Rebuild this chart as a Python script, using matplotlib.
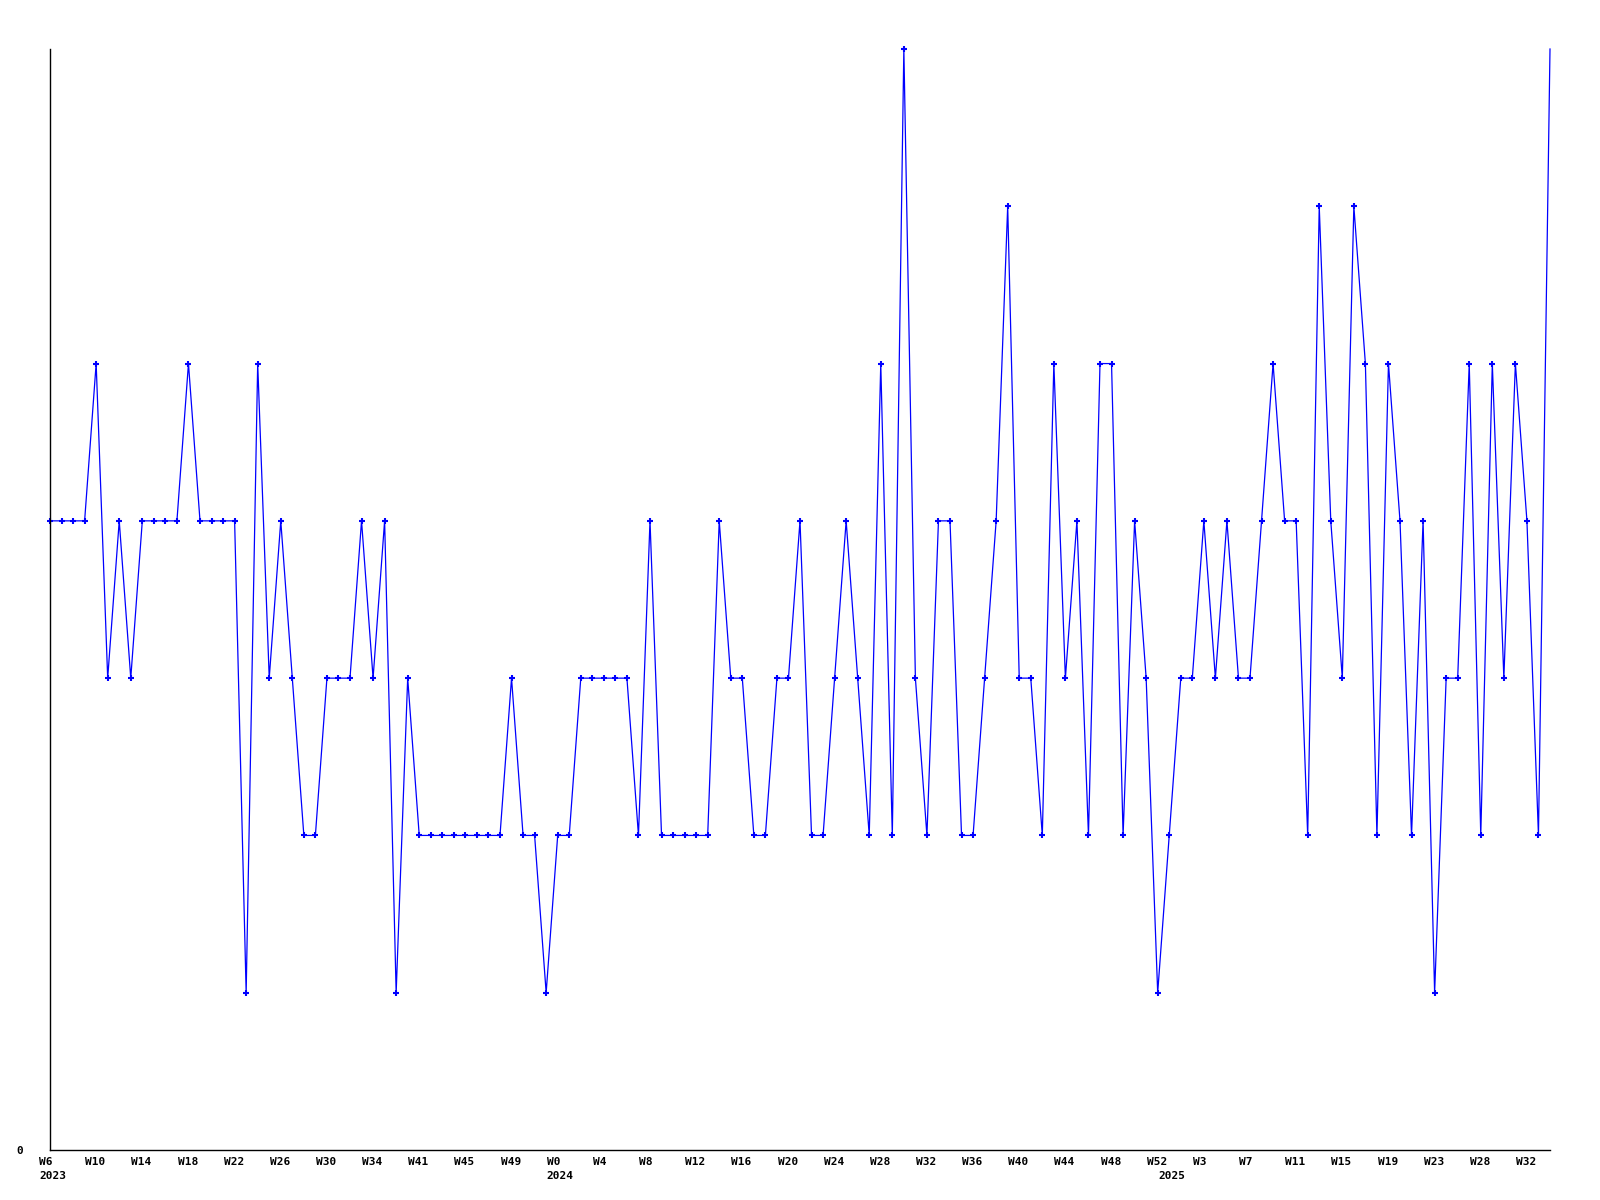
import matplotlib
matplotlib.use('Agg')
import matplotlib.pyplot as plt
import numpy as np

# weekly values
values = [4, 4, 4, 4, 5, 3, 4, 3, 4, 4, 4, 4, 5, 4, 4, 4, 4, 1, 5, 3,
          4, 3, 2, 2, 3, 3, 3, 4, 3, 4, 1, 3, 2, 2, 2, 2, 2, 2, 2, 2,
          3, 2, 2, 1, 2, 2, 3, 3, 3, 3, 3, 2, 4, 2, 2, 2, 2, 2, 4, 3,
          3, 2, 2, 3, 3, 4, 2, 2, 3, 4, 3, 2, 5, 2, 7, 3, 2, 4, 4, 2,
          2, 3, 4, 6, 3, 3, 2, 5, 3, 4, 2, 5, 5, 2, 4, 3, 1, 2, 3, 3,
          4, 3, 4, 3, 3, 4, 5, 4, 4, 2, 6, 4, 3, 6, 5, 2, 5, 4, 2, 4,
          1, 3, 3, 5, 2, 5, 3, 5, 4, 2, 7]

week_labels = ['W6', 'W10', 'W14', 'W18', 'W22', 'W26', 'W30', 'W34', 'W41',
               'W45', 'W49', 'W0', 'W4', 'W8', 'W12', 'W16', 'W20', 'W24',
               'W28', 'W32', 'W36', 'W40', 'W44', 'W48', 'W52', 'W3', 'W7',
               'W11', 'W15', 'W19', 'W23', 'W28', 'W32']
year_labels = ['2023', '2024', '2025']
year_index = [0, 44, 97]

plt.rcParams['font.family'] = ['DejaVu Sans Mono']
plt.rcParams['font.weight'] = 'bold'

fig = plt.figure(figsize=(16, 12), dpi=100)
ax = fig.add_axes([50 / 1600, 50 / 1200, 1500 / 1600, 1101 / 1200])

x = np.arange(len(values))
ax.plot(x, values, color='#0000ff', linewidth=0.9, marker='+',
        markersize=4.5, markeredgewidth=1.5,
        markevery=list(range(len(values) - 1)), clip_on=False)

ax.spines['top'].set_visible(False)
ax.spines['right'].set_visible(False)
ax.spines['left'].set_linewidth(1.0)
ax.spines['bottom'].set_linewidth(1.0)

ax.set_xticks([])
ax.set_yticks([0])
ax.set_yticklabels(['0'], fontsize=8, fontweight='bold')
ax.tick_params(axis='y', length=0, pad=19)

ax.set_xlim(0, len(values) - 1)
ax.set_ylim(0, 7)

# week labels every 4th point, starting about one step left of the point
tick_pos = np.arange(0, len(values), 4)
for lab, i in zip(week_labels, tick_pos):
    ax.annotate(lab, xy=(i - 0.95, 0), xycoords=('data', 'axes fraction'),
                xytext=(0, -5), textcoords='offset points',
                ha='left', va='top', fontsize=8, fontweight='bold',
                annotation_clip=False)

for lab, i in zip(year_labels, year_index):
    ax.annotate(lab, xy=(i - 0.95, 0), xycoords=('data', 'axes fraction'),
                xytext=(0, -15), textcoords='offset points',
                ha='left', va='top', fontsize=8, fontweight='bold',
                annotation_clip=False)

fig.savefig('out.png', dpi=100)
